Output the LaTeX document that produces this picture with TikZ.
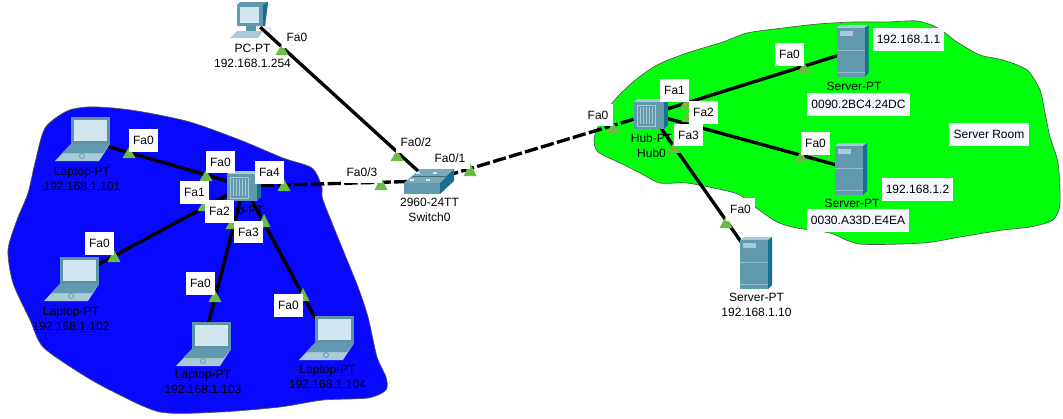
\documentclass[tikz,border=0pt]{standalone}
\usepackage{fontspec}
\setmainfont{Liberation Sans}
\definecolor{lanblue}{HTML}{0808FF}
\definecolor{roomgreen}{HTML}{00FF0C}
\definecolor{edge}{HTML}{555555}
\definecolor{port}{HTML}{6CBB47}
\definecolor{body}{HTML}{6199AF}
\definecolor{bodydark}{HTML}{5C93A9}
\definecolor{bodyside}{HTML}{17708F}
\definecolor{bodylight}{HTML}{A9CAD7}
\definecolor{screen}{HTML}{D2E6EF}
\definecolor{notebg}{HTML}{F6F8FF}
\begin{document}
\begin{tikzpicture}[x=0.75pt, y=-0.75pt, font=\fontsize{9}{11.25}\selectfont,
  blob/.style={draw=edge, line width=0.5pt},
  link/.style={line width=2.5pt, black},
  slink/.style={link, dash pattern=on 10pt off 2.5pt},
  dev/.style={inner sep=0pt, minimum size=0pt},
  devlab/.style={align=center, inner sep=0pt},
  tag/.style={fill=white, inner xsep=3.2pt, inner ysep=0pt, minimum height=17.2pt},
  note/.style={tag, fill=notebg},
  laptop/.pic={
    \fill[bodylight] (-11,5) -- (28,5) -- (17,22) -- (-27,22) -- cycle;
    \fill[body] (-11,5) -- (28,5) -- (21,14) -- (-20,14) -- cycle;
    \fill[bodydark] (-11,-22) rectangle (28,5);
    \fill[screen] (-8,-19) rectangle (25,2);
    \draw[body, line width=0.6pt] (0,17) circle (2.5);
  },
  server/.pic={
    \fill[bodylight] (-16,-23) -- (-12,-26) -- (16,-26) -- (12,-23) -- cycle;
    \fill[bodyside] (12,-23) -- (16,-26) -- (16,22) -- (12,26) -- cycle;
    \fill[body] (-16,-23) rectangle (12,26);
    \fill[bodylight] (-13,-20) rectangle (0,-15);
    \draw[bodylight!70!body, line width=0.4pt] (-16,-1) -- (12,-1) (-16,21) -- (12,21);
  },
  hubbox/.pic={
    \fill[bodylight] (-17,-12) -- (-13,-15) -- (17,-15) -- (13,-12) -- cycle;
    \fill[bodyside] (13,-12) -- (17,-15) -- (17,11) -- (13,15) -- cycle;
    \fill[body] (-17,-12) rectangle (13,15);
    \draw[bodylight, line width=0.7pt] (-14,-9) rectangle (4,12);
    \foreach \s in {-11,-8,-5,-2,1} {\draw[bodylight, line width=0.6pt] (\s,-7) -- (\s,10);}
  },
  swbox/.pic={
    \fill[body!85!white] (-25,2) -- (-9,-12) -- (25,-12) -- (11,2) -- cycle;
    \fill[bodyside] (11,2) -- (25,-12) -- (25,0) -- (11,13) -- cycle;
    \fill[body] (-25,2) rectangle (11,13);
    \draw[body!70!black, line width=0.4pt] (-17,-5) -- (17,-5);
    \foreach \a/\b in {-13/-9,4/-9,-19/-2,-3/-2} {\fill[bodylight!40!white] (\a,\b) rectangle +(4,1.6);}
  },
  pcbox/.pic={
    \fill[bodylight] (-19,18) -- (-12,11) -- (14,11) -- (9,18) -- cycle;
    \fill[bodydark] (-3,6) rectangle (7,11);
    \fill[body] (-12,-15) -- (-9,-18) -- (19,-18) -- (16,6) -- (-12,6) -- cycle;
    \fill[bodyside] (14,-15) -- (19,-18) -- (16,6) -- (14,6) -- cycle;
    \fill[screen] (-9,-13) rectangle (10,3);
    \draw[bodylight, line width=0.5pt] (16,8) .. controls (22,7) and (24,11) .. (20,13);
  }]
\useasboundingbox (0,0) rectangle (1063,418);
% ---------------- areas
\draw[blob, fill=lanblue] plot[smooth cycle, tension=0.45] coordinates {
  (88,107) (67,111) (45,128) (35,163) (28,193) (17,220) (8,250) (13,283) (30,320) (43,347)
  (80,373) (110,390) (160,412) (220,412) (280,407) (323,400) (368,398) (386,390) (386,377)
  (377,357) (368,317) (358,287) (343,250) (323,200) (322,187) (312,168) (283,158) (240,140)
  (190,122) (143,112) (113,108)};
\draw[blob, fill=roomgreen] plot[smooth cycle, tension=0.45] coordinates {
  (917,21) (938,28) (957,42) (980,55) (1003,60) (1027,70) (1040,90) (1045,113) (1050,137)
  (1058,163) (1060,203) (1053,220) (1030,227) (1003,230) (960,237) (923,243) (860,244)
  (830,233) (797,228) (777,222) (755,207) (740,195) (723,190) (687,183) (660,183) (640,173)
  (620,163) (598,152) (594,140) (598,127) (613,102) (633,82) (657,65) (687,53) (723,42)
  (747,33) (783,28) (818,24) (853,22) (887,22)};
% ---------------- devices
\node[dev] (lap1) at (82,139) {};
\node[dev] (lap2) at (71,279) {};
\node[dev] (lap3) at (203,344) {};
\node[dev] (lap4) at (326,338) {};
\node[dev] (hub1) at (244,186) {};
\node[dev] (hub0) at (651,114) {};
\node[dev] (sw0) at (429,181) {};
\node[dev] (pc0) at (260,27) {};
\node[dev] (srv1) at (852.5,51) {};
\node[dev] (srv2) at (851,169) {};
\node[dev] (srv3) at (756,263) {};
% ---------------- links
\foreach \n in {lap1,lap2,lap3,lap4} {\draw[link] (\n) -- (hub1);}
\foreach \n in {srv1,srv2,srv3} {\draw[link] (\n) -- (hub0);}
\draw[link] (pc0) -- (sw0);
\draw[slink] (hub1) -- (sw0);
\draw[slink] (sw0) -- (hub0);
% ---------------- port marks, base centre and top
\foreach \x/\y/\t in {129/158/147, 206/181/170, 114/262/250, 204/211/200, 232/229/218, 264/227/214,
  284/191/179, 215/302/290, 303/301/288, 282/55/44, 397/161/150, 381/190/177, 470/176/163,
  613/133/122, 804/73/62, 686/109/98, 688/122/111, 674/153/142, 801/162/151, 726/228/216} {
  \fill[port] (\x-6.5,\y) -- (\x+6.5,\y) -- (\x,\t) -- cycle;
}
% ---------------- icons
\foreach \n in {lap1,lap2,lap3,lap4} {\pic at (\n) {laptop};}
\foreach \n in {srv1,srv2,srv3} {\pic at (\n) {server};}
\pic at (hub1) {hubbox};
\pic at (hub0) {hubbox};
\pic at (sw0) {swbox};
\pic at (249,20) {pcbox};
% ---------------- device labels
\node[devlab] (lap1lab) at (82,178.5) {Laptop-PT\\192.168.1.101};
\node[devlab] (lap2lab) at (71,318.5) {Laptop-PT\\192.168.1.102};
\node[devlab] (lap3lab) at (203,382) {Laptop-PT\\192.168.1.103};
\node[devlab] (lap4lab) at (327.5,377) {Laptop-PT\\192.168.1.104};
\node[devlab] (pclab) at (252.5,55.5) {PC-PT\\192.168.1.254};
\node[devlab] (swlab) at (429.5,210) {2960-24TT\\Switch0};
\node[devlab] (hub1lab) at (243,210) {Hub-PT};
\node[devlab] (hub0lab) at (651.5,145.5) {Hub-PT\\Hub0};
\node[devlab] (srv1lab) at (854,86) {Server-PT};
\node[devlab] (srv2lab) at (852,203) {Server-PT};
\node[devlab] (srv3lab) at (756.5,304.5) {Server-PT\\192.168.1.10};
% ---------------- port names
\foreach \x/\y/\s [count=\i] in {143.5/140.5/Fa0, 220.5/162/Fa0, 194.5/192.5/Fa1, 219.5/211.5/Fa2,
  248.5/232/Fa3, 269.5/172.5/Fa4, 99.5/243.5/Fa0, 200.5/283.5/Fa0, 288.5/305.5/Fa0, 297/37/Fa0,
  416/142/{Fa0/2}, 450/158/{Fa0/1}, 362/172/{Fa0/3}, 598/115/Fa0, 674.5/90.5/Fa1, 703.5/112.5/Fa2,
  688.5/135/Fa3, 789.5/54.5/Fa0, 815.5/143.5/Fa0, 740.5/209.5/Fa0} {
  \node[tag] (port\i) at (\x,\y) {\s};
}
% ---------------- notes
\node[note] (ip1) at (908.5,39.5) {192.168.1.1};
\node[note] (mac1) at (858.5,104.5) {0090.2BC4.24DC};
\node[note] (ip2) at (917.5,189.5) {192.168.1.2};
\node[note] (mac2) at (858,220.5) {0030.A33D.E4EA};
\node[note] (room) at (989,134.5) {Server Room};
\end{tikzpicture}
\end{document}
